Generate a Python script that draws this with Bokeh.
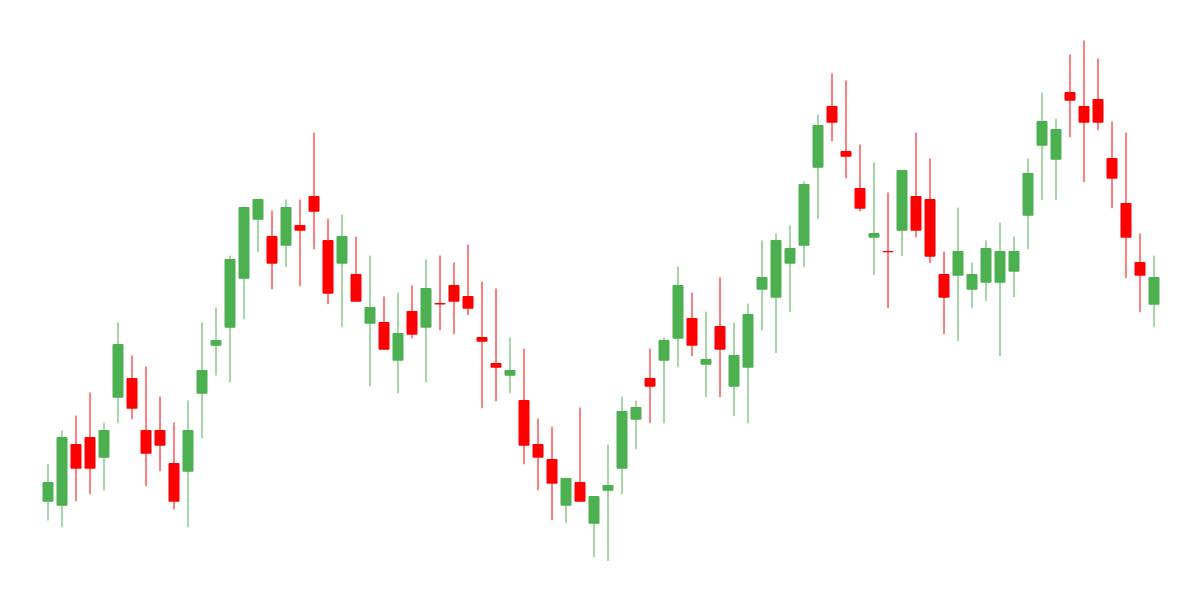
from bokeh.plotting import figure
from bokeh.models import ColumnDataSource, Range1d
from bokeh.embed import file_html
from bokeh.resources import INLINE

open_ = [99.3, 95.3, 156, 163, 143.3, 203.3, 222, 170, 170, 137,
         129.3, 207.3, 255.3, 273.3, 322.3, 381.3, 364, 355.3, 375, 404,
         360, 337.3, 326, 277.3, 278, 240.3, 289, 273.3, 297, 315,
         304, 263, 237, 225.3, 200, 156, 141, 95.3, 118, 77.3,
         110.3, 132.3, 181.3, 222, 240.3, 262.3, 282, 236.3, 274, 214.3,
         233.3, 311.3, 303.3, 337.3, 355.3, 433.3, 494, 449, 412, 363.3,
         349, 370.3, 404, 401, 326, 325.3, 311.3, 318.3, 318.3, 329.3,
         385.3, 455.3, 441.3, 508, 494, 501, 442, 397, 338, 296.3]
high = [136.7, 170, 185, 208, 178, 278, 245, 234, 204, 178,
        200, 278, 293, 345, 393, 401, 390, 401, 401, 468,
        382, 386, 364, 345, 304, 308, 315, 341, 345, 338,
        356, 319, 312, 263, 252, 182, 174, 122, 193, 104,
        156, 204, 200, 252, 263, 334, 308, 289, 323, 278,
        297, 360, 367, 375, 419, 486, 527, 520, 456, 438,
        408, 430, 468, 442, 349, 393, 338, 360, 378, 364,
        442, 508, 482, 546, 560, 542, 479, 468, 367, 345]
low = [80, 73.3, 99.3, 106.3, 110, 177.3, 181.3, 114.3, 129.3, 91.3,
       73.3, 162.3, 225, 218.3, 281.3, 348.3, 311.3, 333.3, 314.3, 351.3,
       296.3, 273.3, 299.3, 214.3, 251.3, 207.3, 262.3, 218.3, 270.3, 266.3,
       285.3, 192.3, 199.3, 207.3, 136.3, 110.3, 80.3, 77.3, 99.3, 43.3,
       39.3, 106.3, 151.3, 177.3, 177.3, 233.3, 244.3, 203.3, 203.3, 184.3,
       177.3, 270.3, 247.3, 288.3, 333.3, 381.3, 459.3, 422.3, 389.3, 325.3,
       292.3, 344.3, 363.3, 337.3, 266.3, 259.3, 292.3, 299.3, 244.3, 303.3,
       351.3, 400.3, 400.3, 463.3, 418.3, 470.3, 392.3, 322.3, 288.3, 273.3]
close = [118, 163, 132.3, 132.3, 170, 256, 192.3, 147.3, 155.3, 99.3,
         170, 230, 260, 341, 393, 401, 337.3, 393, 370.3, 389.3,
         307.3, 364, 299.3, 293, 251.3, 267, 266.3, 312, 296.5, 299.3,
         292.3, 259.3, 233.3, 230, 155.3, 143.3, 117.3, 122, 99.3, 104,
         115, 189, 193, 214.3, 260, 315, 255.3, 241, 251.3, 245,
         286, 323, 360, 352, 416, 475, 478.3, 444.3, 392.3, 367,
         348.7, 430, 370.3, 344.3, 303.3, 349, 326, 352, 349, 349,
         427, 479, 471, 500.3, 478.3, 478.3, 422.3, 363.3, 325.3, 323]

UP = "#4CAF50"
DOWN = "#FF0000"

idx = list(range(len(open_)))
colors = [UP if c >= o else DOWN for o, c in zip(open_, close)]
tops = [max(o, c) for o, c in zip(open_, close)]
bots = [min(o, c) for o, c in zip(open_, close)]

src = ColumnDataSource(dict(x=idx, o=open_, h=high, l=low, c=close,
                            top=tops, bottom=bots, color=colors))

x0 = -47.5 / 14
p = figure(width=1184, height=584, output_backend="svg", toolbar_location=None,
           x_axis_location=None, y_axis_location=None, min_border=0,
           x_range=Range1d(x0, x0 + 1184 / 14), y_range=Range1d(16, 600))
p.grid.visible = False
p.outline_line_color = None
p.background_fill_color = "white"
p.border_fill_color = "white"

p.segment(x0="x", y0="l", x1="x", y1="h", color="color", line_width=1, source=src)
p.vbar(x="x", top="top", bottom="bottom", width=10 / 14, fill_color="color",
       line_color="color", line_width=1, source=src)

open("out.html", "w").write(file_html(p, INLINE))
